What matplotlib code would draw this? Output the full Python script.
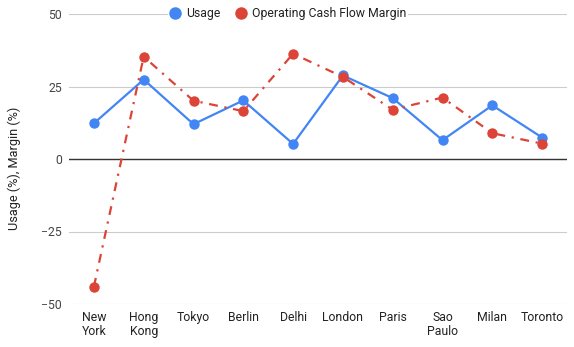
import matplotlib.pyplot as plt
from matplotlib.lines import Line2D

plt.rcParams['font.family'] = ['Roboto', 'DejaVu Sans']

cities = ['New\nYork', 'Hong\nKong', 'Tokyo', 'Berlin', 'Delhi',
          'London', 'Paris', 'Sao\nPaulo', 'Milan', 'Toronto']
usage = [12.3, 27.4, 12.0, 20.2, 5.2, 28.8, 21.0, 6.5, 18.5, 7.4]
margin = [-44.0, 35.3, 20.1, 16.5, 36.3, 28.3, 17.0, 21.2, 8.9, 5.3]
y_ticks = [-50, -25, 0, 25, 50]

blue = '#4285F4'
red = '#DB4437'

fig = plt.figure(figsize=(5.74, 3.47), dpi=100)
ax = fig.add_axes([69 / 574, 1 - 304 / 347, 498 / 574, 290 / 347])

x = list(range(len(cities)))
ax.plot(x, usage, color=blue, lw=1.6, marker='o', ms=7.5, mew=0, zorder=3)
ax.plot(x, margin, color=red, lw=1.6, marker='o', ms=7.5, mew=0,
        dashes=[4, 3, 1, 3], zorder=4)

ax.set_xlim(-0.5, len(cities) - 0.5)
ax.set_ylim(-50, 50)
ax.set_yticks(y_ticks)
ax.set_xticks(x)
ax.set_xticklabels(cities, fontsize=8.8, color='#222222', linespacing=1.1)
ax.tick_params(axis='y', labelsize=8.8, labelcolor='#444444', length=0, pad=5)
ax.tick_params(axis='x', length=0, pad=5)
for s in ax.spines.values():
    s.set_visible(False)
ax.grid(axis='y', color='#cccccc', lw=0.8, zorder=0)
ax.axhline(0, color='#333333', lw=1.0, zorder=2)

fig.text(14 / 574, 1 - 168 / 347, 'Usage (%), Margin (%)', rotation=90,
         ha='center', va='center', fontsize=9.2, color='#222222')

handles = [Line2D([], [], ls='none', marker='o', ms=9, mew=0, color=blue),
           Line2D([], [], ls='none', marker='o', ms=9, mew=0, color=red)]
leg = fig.legend(handles, ['Usage', 'Operating Cash Flow Margin'], loc='center',
                 bbox_to_anchor=(288 / 574, 1 - 14 / 347), ncol=2, frameon=True,
                 fontsize=8.8, handlelength=1.0, handletextpad=0.4,
                 columnspacing=1.2, borderpad=0.1, borderaxespad=0)
leg.get_frame().set_edgecolor('none')
leg.get_frame().set_facecolor('white')
leg.get_frame().set_alpha(1)
for t in leg.get_texts():
    t.set_color('#222222')

fig.savefig('out.png', dpi=100)
